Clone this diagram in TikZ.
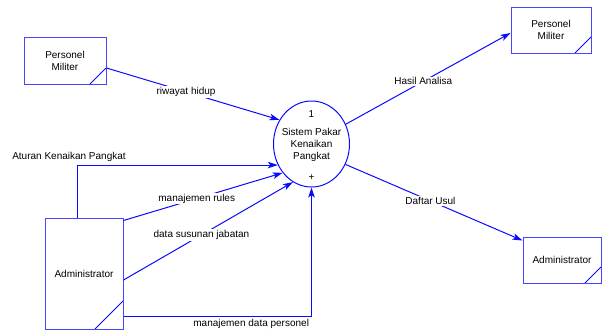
\documentclass[tikz,border=0pt]{standalone}
\usepackage{fontspec}
\setmainfont{Liberation Sans}
\usetikzlibrary{arrows.meta,shapes.geometric}
\definecolor{boxblue}{RGB}{70,70,255}
\definecolor{lineblue}{RGB}{10,10,255}
\tikzset{
	entity/.style={draw=boxblue, line width=1pt, rectangle, inner sep=0pt, align=center,
		path picture={\draw[lineblue, line width=0.8pt] ([yshift=#1]path picture bounding box.south east) -- ([xshift=-#1]path picture bounding box.south east);}},
	entity/.default=16pt,
	flow/.style={draw=lineblue, line width=1pt, -{Stealth[length=10pt,width=6.5pt,inset=2.5pt]}},
	lbl/.style={fill=white, inner sep=1pt}
}

\begin{document}
\begin{tikzpicture}[x=1pt, y=-1pt]
			%%%%% START %%%%%
			
			\useasboundingbox (0, 0) rectangle (603, 333);
			
			% proses
			\node[draw=lineblue, line width=1pt, ellipse, inner sep=0pt, minimum width=76pt, minimum height=86pt] (proc) at (311.5, 144) {};
			\node[align=center] (ptext) at ([yshift=-1pt]proc.center) {Sistem Pakar\\Kenaikan\\Pangkat};
			\node (pnum) at ([yshift=-13.5pt]proc.north) {1};
			\node (pplus) at ([yshift=10pt]proc.south) {+};
			
			% entitas luar
			\node[entity, minimum width=82pt, minimum height=47pt] (pm1) at (65, 60.5) {Personel\\Militer};
			\node[entity, minimum width=80pt, minimum height=46pt] (pm2) at (551, 30) {Personel\\Militer};
			\node[entity=28pt, minimum width=78pt, minimum height=111pt] (adm1) at (84, 273.5) {Administrator};
			\node[entity, minimum width=78pt, minimum height=46pt] (adm2) at (562, 260) {Administrator};
			
			% aliran data
			\draw[flow] ([yshift=-7.5pt]pm1.east) -- node[lbl, pos=0.46] {riwayat hidup} (proc.143);
			\draw[flow] ([xshift=-6.5pt]adm1.north) |- node[pos=0.5, above, xshift=-8.5pt] {Aturan Kenaikan Pangkat} (proc.212);
			\draw[flow] ([yshift=-3pt]adm1.north east) -- node[lbl, pos=0.46] {manajemen rules} (proc.225);
			\draw[flow] ([yshift=-6.5pt]adm1.east) -- node[lbl, pos=0.46] {data susunan jabatan} (proc.244);
			\draw[flow] ([yshift=-43pt]adm1.east) -| node[pos=0.5, below left, inner sep=2pt] {manajemen data personel} (proc.south);
			\draw[flow] (proc.30) -- node[lbl, pos=0.47] {Hasil Analisa} ([yshift=-3pt]pm2.west);
			\draw[flow] (proc.329) -- node[lbl, pos=0.48] {Daftar Usul} ([yshift=-4pt]adm2.north west);
			
			%%%%% END %%%%%
\end{tikzpicture}
\end{document}
